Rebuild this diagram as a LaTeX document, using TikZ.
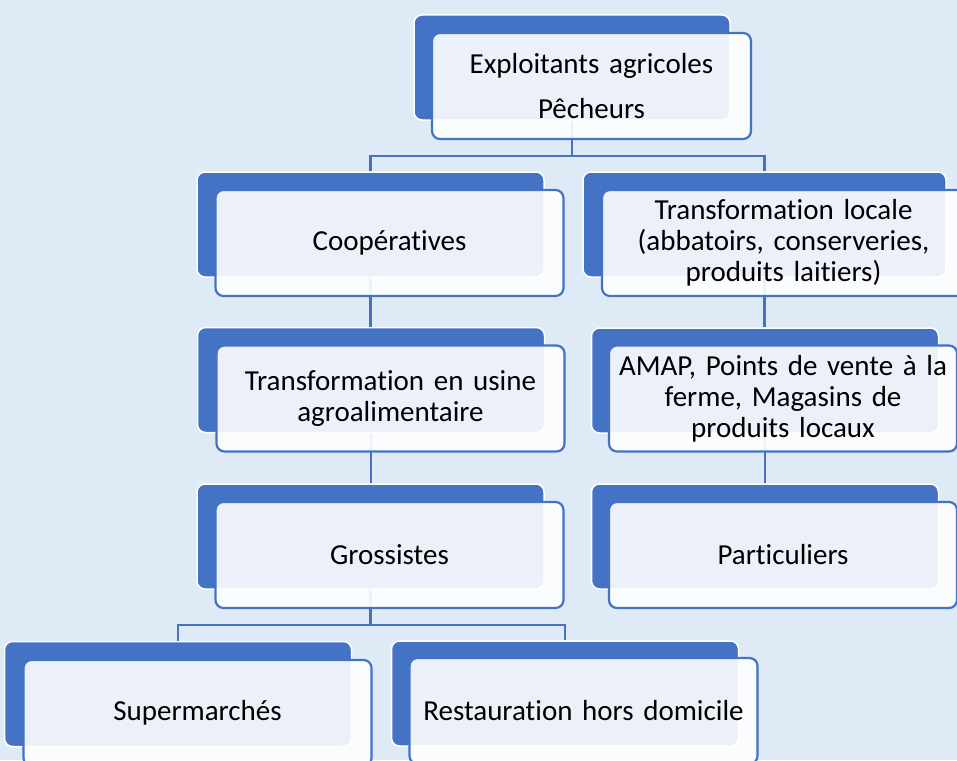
\documentclass[tikz,border=0pt]{standalone}
\usepackage{fontspec}
\setmainfont{Carlito}[RawFeature=-liga]
\definecolor{bg}{RGB}{222,234,246}
\definecolor{acc}{RGB}{68,114,196}
\begin{document}
\begin{tikzpicture}[x=1pt,y=-1pt,
  back/.style={draw=white, line width=1.5pt, fill=acc, rounded corners=8pt, inner sep=0pt, minimum width=347pt, minimum height=105pt},
  front/.style={draw=acc, line width=2.2pt, fill=white, fill opacity=0.9, text opacity=1, rounded corners=8pt, inner sep=0pt, align=center, minimum width=348pt, minimum height=106pt, text width=340pt, font=\fontsize{29}{31}\selectfont},
  link/.style={draw=acc, line width=2.4pt}]
\useasboundingbox (0,0) rectangle (957,760);
\clip (0,0) rectangle (957,760);
\fill[bg] (0,0) rectangle (957,760);
% back boxes
\node[back, minimum width=316pt] (b1) at (572,67.5) {};
\node[back] (b2) at (370.5,224.5) {};
\node[back, minimum width=363pt] (b3) at (764.5,224.5) {};
\node[back] (b4) at (371,380) {};
\node[back] (b5) at (765,380.5) {};
\node[back] (b6) at (370.5,536.5) {};
\node[back] (b7) at (765,536.5) {};
\node[back] (b8) at (178,694) {};
\node[back] (b9) at (565,693.5) {};
% connectors
\draw[link] (b1.south) -- ++(0,35) coordinate (j1);
\draw[link] (b2.north) |- (j1) -| (b3.north);
\draw[link] (b2.south) -- (b2.south |- b4.north);
\draw[link] (b4.south) -- (b4.south |- b6.north);
\draw[link] (b3.south) -- (b3.south |- b5.north);
\draw[link] (b5.south) -- (b5.south |- b7.north);
\draw[link] (b6.south) -- ++(0,35) coordinate (j2);
\draw[link] (b8.north) |- (j2) -| (b9.north);
% front boxes
\node[front, minimum width=319pt, text width=310pt] (f1) at (591.5,86) {Exploitants agricoles\\[14pt]Pêcheurs};
\node[front] (f2) at (389.5,243) {Coopératives};
\node[front, minimum width=363pt, text width=350pt] (f3) at (783.5,243) {Transformation locale\\(abbatoirs, conserveries,\\produits laitiers)};
\node[front] (f4) at (390.5,398.5) {Transformation en usine\\agroalimentaire};
\node[front] (f5) at (783,398.5) {AMAP, Points de vente à la\\ferme, Magasins de\\produits locaux};
\node[front] (f6) at (389.5,555) {Grossistes};
\node[front] (f7) at (783,555) {Particuliers};
\node[front] (f8) at (197.5,713) {Supermarchés};
\node[front] (f9) at (583.5,711) {Restauration hors domicile};
\end{tikzpicture}
\end{document}
